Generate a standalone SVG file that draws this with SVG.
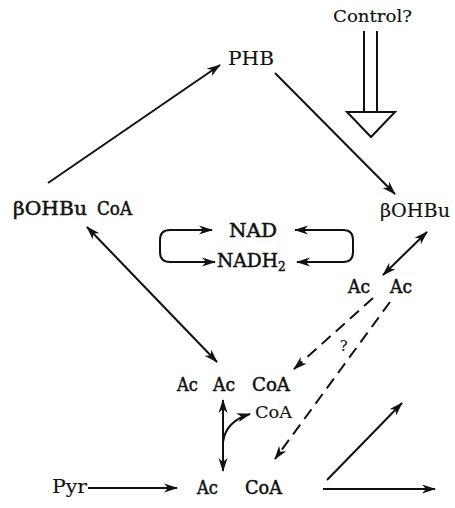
<svg xmlns="http://www.w3.org/2000/svg" width="455" height="508" viewBox="0 0 455 508">
<style>
.t{font-family:"DejaVu Serif","Liberation Serif",serif;font-weight:normal;fill:#111;stroke:#111;stroke-width:0.5;}
.r{stroke-width:0.15;}
.c{fill:none;stroke:#111;stroke-width:2;}
.d{stroke-dasharray:12,7;}
</style>
<defs>
<marker id="ah" viewBox="0 0 14 10" refX="13" refY="5" markerWidth="14" markerHeight="10" markerUnits="userSpaceOnUse" orient="auto-start-reverse">
<path d="M0,0.5 L14,5 L0,9.5 L4,5 z" fill="#111"/>
</marker>
</defs>
<rect width="455" height="508" fill="#fff"/>
<g id="connectors">
<line class="c" x1="48" y1="183" x2="220" y2="65" marker-end="url(#ah)"/>
<line class="c" x1="275" y1="73" x2="395" y2="194" marker-end="url(#ah)"/>
<line class="c" x1="87" y1="227" x2="217" y2="362" marker-start="url(#ah)" marker-end="url(#ah)"/>
<line class="c" x1="427" y1="232" x2="383" y2="275" marker-start="url(#ah)" marker-end="url(#ah)"/>
<line class="c d" x1="373" y1="298" x2="294" y2="369" marker-end="url(#ah)"/>
<line class="c d" x1="390" y1="302" x2="275" y2="459" marker-end="url(#ah)"/>
<line class="c" x1="223" y1="400" x2="223" y2="471" marker-start="url(#ah)" marker-end="url(#ah)"/>
<path class="c" d="M223,442 Q226,421 250,414" marker-end="url(#ah)"/>
<line class="c" x1="88" y1="488" x2="177" y2="488" marker-end="url(#ah)"/>
<line class="c" x1="323" y1="489" x2="435" y2="489" marker-end="url(#ah)"/>
<line class="c" x1="327" y1="480" x2="402" y2="403" marker-end="url(#ah)"/>
<path class="c" d="M212,230 H170 Q160,230 160,240 V252 Q160,262 170,262 H215" marker-start="url(#ah)" marker-end="url(#ah)"/>
<path class="c" d="M295,230 H343 Q353,230 353,240 V252 Q353,262 343,262 H297" marker-start="url(#ah)" marker-end="url(#ah)"/>
</g>
<g id="control">
<line class="c" x1="364" y1="31" x2="364" y2="112"/>
<line class="c" x1="377" y1="31" x2="377" y2="112"/>
<polygon class="c" points="347,112 395,112 371,137"/>
<text class="t r" x="333" y="22" font-size="17.5" textLength="79" lengthAdjust="spacingAndGlyphs">Control?</text>
</g>
<g id="PHB"><text class="t r" x="228" y="65" font-size="19" textLength="46" lengthAdjust="spacingAndGlyphs">PHB</text></g>
<g id="bOHBuCoA"><text class="t" y="215" font-size="18.5"><tspan x="13" textLength="74" lengthAdjust="spacingAndGlyphs">βOHBu</tspan> <tspan x="97" textLength="35" lengthAdjust="spacingAndGlyphs">CoA</tspan></text></g>
<g id="bOHBu"><text class="t r" x="380" y="217" font-size="18.5" textLength="70" lengthAdjust="spacingAndGlyphs">βOHBu</text></g>
<g id="NAD"><text class="t" x="229" y="237" font-size="18.5" textLength="48" lengthAdjust="spacingAndGlyphs">NAD</text></g>
<g id="NADH2"><text class="t" x="217" y="267" font-size="18.5"><tspan textLength="61" lengthAdjust="spacingAndGlyphs">NADH</tspan><tspan font-size="12" dy="4">2</tspan></text></g>
<g id="AcAc"><text class="t" y="293" font-size="18.5"><tspan x="348" textLength="22" lengthAdjust="spacingAndGlyphs">Ac</tspan> <tspan x="390" textLength="22" lengthAdjust="spacingAndGlyphs">Ac</tspan></text></g>
<g id="q"><text class="t r" x="340" y="351" font-size="14">?</text></g>
<g id="AcAcCoA"><text class="t" y="391" font-size="18.5"><tspan x="177" textLength="21" lengthAdjust="spacingAndGlyphs">Ac</tspan> <tspan x="213" textLength="22" lengthAdjust="spacingAndGlyphs">Ac</tspan> <tspan x="252" textLength="38" lengthAdjust="spacingAndGlyphs">CoA</tspan></text></g>
<g id="CoA"><text class="t r" x="255" y="418" font-size="16.5" textLength="37" lengthAdjust="spacingAndGlyphs">CoA</text></g>
<g id="Pyr"><text class="t r" x="52" y="493" font-size="19" textLength="35" lengthAdjust="spacingAndGlyphs">Pyr</text></g>
<g id="AcCoA"><text class="t" y="494" font-size="18.5"><tspan x="197" textLength="21" lengthAdjust="spacingAndGlyphs">Ac</tspan> <tspan x="245" textLength="37" lengthAdjust="spacingAndGlyphs">CoA</tspan></text></g>
</svg>
